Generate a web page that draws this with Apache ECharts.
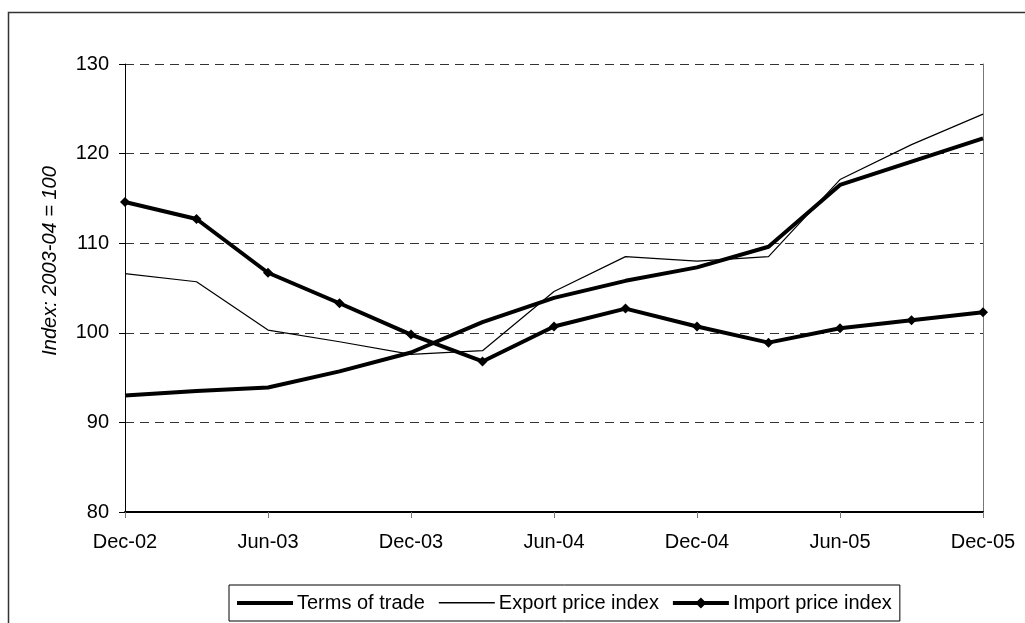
<!DOCTYPE html>
<html>
<head>
<meta charset="utf-8">
<script src="https://cdn.jsdelivr.net/npm/echarts@6/dist/echarts.min.js"></script>
<style>
  html, body { margin: 0; padding: 0; background: #fff; }
  #chart { width: 1025px; height: 623px; }
</style>
</head>
<body>
<div id="chart"></div>
<script>
// quarterly data, Dec-02 .. Dec-05
const quarters = ['Dec-02', 'Mar-03', 'Jun-03', 'Sep-03', 'Dec-03', 'Mar-04', 'Jun-04',
  'Sep-04', 'Dec-04', 'Mar-05', 'Jun-05', 'Sep-05', 'Dec-05'];
const termsOfTrade = [93.0, 93.5, 93.9, 95.7, 97.8, 101.2, 103.9, 105.8, 107.3, 109.6, 116.5, 119.1, 121.7];
const exportPrice = [106.6, 105.7, 100.3, 99.0, 97.6, 98.0, 104.6, 108.5, 108.0, 108.5, 117.1, 121.0, 124.4];
const importPrice = [114.6, 112.7, 106.7, 103.3, 99.8, 96.8, 100.7, 102.7, 100.7, 98.9, 100.5, 101.4, 102.3];

const font = '"Liberation Sans", Arial, sans-serif';

// legend icons: line samples like the spreadsheet legend (M0,0 / M56,14 keep the box size)
const thickIcon = 'path://M0,0 M0,5 L56,5 L56,9 L0,9 Z M56,14';
const thinIcon = 'path://M0,0 M0,6 L56,6 L56,7.4 L0,7.4 Z M56,14';
const diamondIcon = 'path://M0,0 M0,5 L56,5 L56,9 L0,9 Z M28,1.5 L33.5,7 L28,12.5 L22.5,7 Z M56,14';

const chart = echarts.init(document.getElementById('chart'));
const option = {
  animation: false,
  textStyle: { fontFamily: font },
  grid: { left: 125, right: 42, top: 64, bottom: 111, containLabel: false },
  graphic: [
    {
      type: 'rect',
      shape: { x: 8.5, y: 12.5, width: 1040, height: 700 },
      style: { fill: 'none', stroke: '#333', lineWidth: 1.5 },
      silent: true
    },
    {
      type: 'text',
      x: 50, y: 261,
      rotation: Math.PI / 2,
      style: {
        text: 'Index: 2003-04 = 100',
        fontSize: 20, fontStyle: 'italic', fontFamily: font,
        fill: '#000', align: 'center', verticalAlign: 'middle'
      }
    }
  ],
  legend: {
    left: 229, top: 585,
    borderColor: '#000', borderWidth: 1,
    padding: [8, 8],
    itemWidth: 56, itemHeight: 14, itemGap: 14,
    textStyle: { fontSize: 20, color: '#000', fontFamily: font, padding: [0, 0, 0, -1] },
    data: [
      { name: 'Terms of trade', icon: thickIcon },
      { name: 'Export price index', icon: thinIcon },
      { name: 'Import price index', icon: diamondIcon }
    ]
  },
  xAxis: {
    type: 'category',
    boundaryGap: false,
    data: quarters,
    axisLine: { lineStyle: { color: '#000', width: 2 } },
    axisTick: { interval: 1, length: 6, lineStyle: { color: '#777' } },
    axisLabel: { interval: 1, margin: 20, fontSize: 20, color: '#000' },
    splitLine: { show: false }
  },
  yAxis: [
    {
      type: 'value',
      min: 80, max: 130, interval: 10,
      axisLine: { show: true, lineStyle: { color: '#000', width: 1 } },
      axisTick: { show: true, length: 6, lineStyle: { color: '#000' } },
      axisLabel: { margin: 16, fontSize: 20, color: '#000' },
      splitLine: { lineStyle: { color: '#333', type: [9, 6], width: 1 } }
    },
    {
      type: 'value',
      position: 'right',
      min: 80, max: 130, interval: 10,
      axisLine: { show: true, lineStyle: { color: '#777', width: 1 } },
      axisTick: { show: false },
      axisLabel: { show: false },
      splitLine: { show: false }
    }
  ],
  series: [
    {
      name: 'Terms of trade',
      type: 'line',
      data: termsOfTrade,
      symbol: 'none',
      lineStyle: { color: '#000', width: 4 },
      itemStyle: { color: '#000' }
    },
    {
      name: 'Export price index',
      type: 'line',
      data: exportPrice,
      symbol: 'none',
      lineStyle: { color: '#000', width: 1.2 },
      itemStyle: { color: '#000' }
    },
    {
      name: 'Import price index',
      type: 'line',
      data: importPrice,
      symbol: 'diamond',
      symbolSize: 10,
      lineStyle: { color: '#000', width: 4 },
      itemStyle: { color: '#000' }
    }
  ]
};
chart.setOption(option);
</script>
</body>
</html>
